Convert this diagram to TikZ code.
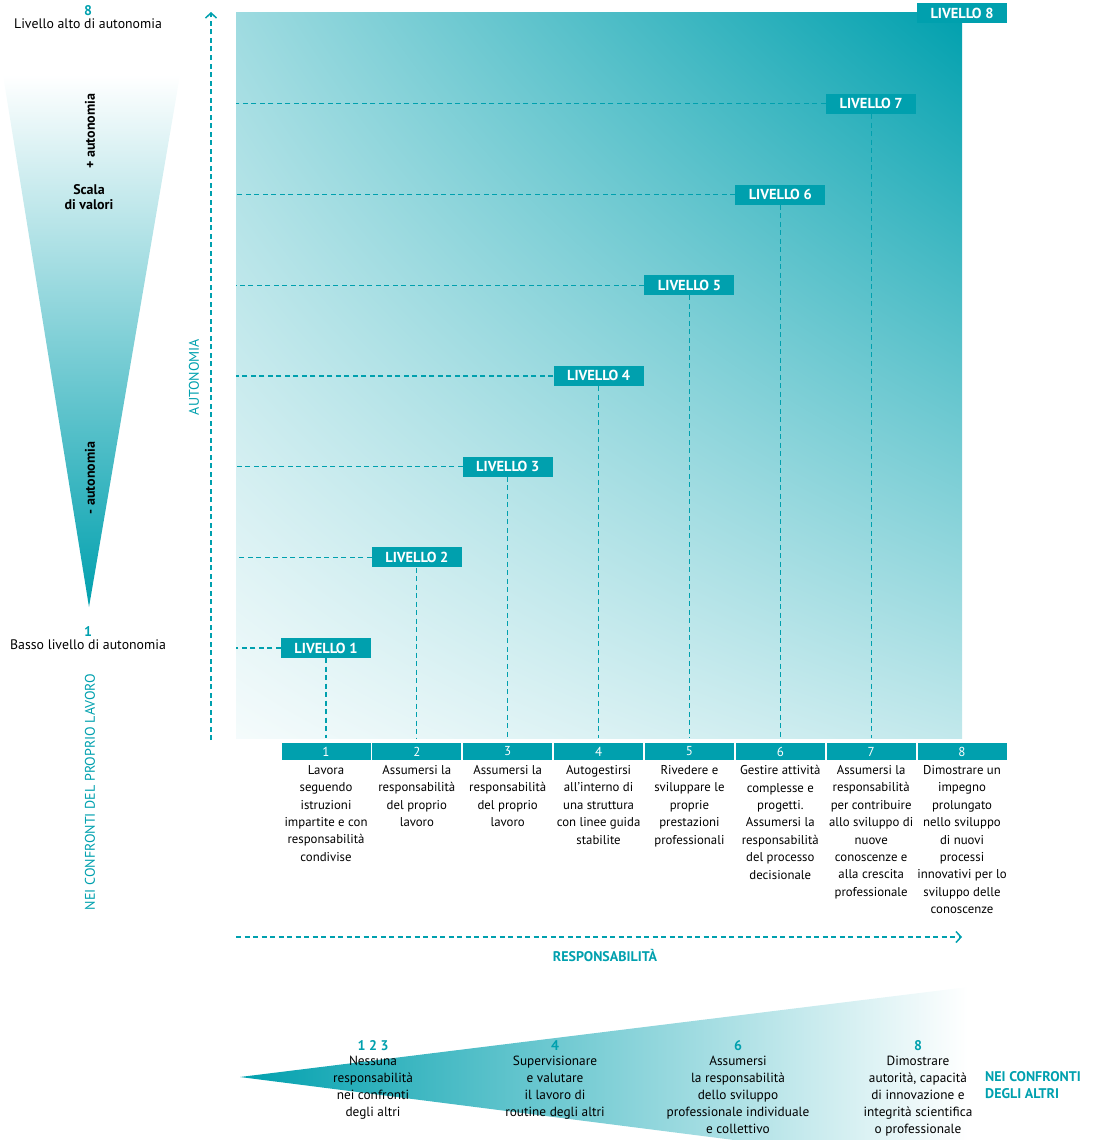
\documentclass[tikz,border=0pt]{standalone}
\usepackage{fontspec}
\setmainfont{PT Sans}
\usetikzlibrary{arrows.meta, positioning, calc, shadings}
\definecolor{ecteal}{RGB}{0,160,174}
\tikzset{
  lvlbox/.style   = {rectangle, fill=ecteal, text=white, minimum width=90pt,
                     minimum height=20pt, inner sep=0pt,
                     font=\fontsize{14.5}{16}\selectfont\bfseries},
  numbox/.style   = {rectangle, fill=ecteal, text=white, minimum width=89pt,
                     minimum height=17pt, inner sep=0pt,
                     font=\fontsize{13}{14}\selectfont},
  desc/.style     = {align=center, inner sep=0pt,
                     font=\fontsize{12.8}{17.4}\selectfont},
  guide/.style    = {ecteal, line width=1.2pt, dash pattern=on 5pt off 3.5pt},
  axisarrow/.style = {ecteal, line width=1.5pt, dash pattern=on 5pt off 3.5pt,
                     -{Straight Barb[length=5pt, width=11pt, line width=1.5pt]}},
  axislabel/.style = {text=ecteal, inner sep=0pt, font=\fontsize{14}{16}\selectfont},
  scalenum/.style = {text=ecteal, inner sep=0pt, font=\fontsize{14}{15}\selectfont\bfseries},
  scaletxt/.style = {align=center, inner sep=0pt, font=\fontsize{13.3}{17}\selectfont},
  scalebold/.style = {align=center, inner sep=0pt, font=\fontsize{14}{14.5}\selectfont\bfseries},
}
\begin{document}
\begin{tikzpicture}[x=1pt, y=-1pt]
  \useasboundingbox (0,0) rectangle (1093,1140);

  % gradient field
  \node[shade, lower left=ecteal!4!white, upper right=ecteal,
        upper left=ecteal!38!white, lower right=ecteal!24!white,
        minimum width=726pt, minimum height=725pt, inner sep=0pt]
        (sq) at (599,375.5) {};

  % left scale
  \shade[top color=white, bottom color=ecteal] (3,75) -- (180,75) -- (89,607) -- cycle;
  \node[scalenum] (top8) at (88,11) {8};
  \node[scaletxt, font=\fontsize{13.8}{15}\selectfont, below=2pt of top8] (toptxt) {Livello alto di autonomia};
  \node[scalebold, rotate=90] (plus) at (90,131) {+ autonomia};
  \node[scalebold] (scala) at (89,197) {Scala\\di valori};
  \node[scalebold, rotate=90] (minus) at (90,478) {- autonomia};
  \node[scalenum] (bot1) at (88,632) {1};
  \node[scaletxt, font=\fontsize{13.8}{15}\selectfont, below=2pt of bot1] (bottxt) {Basso livello di autonomia};
  \node[axislabel, rotate=90] (proprio) at (90,792) {NEI CONFRONTI DEL PROPRIO LAVORO};

  % axes
  \coordinate (ya) at (211,740);
  \coordinate (yb) at (211,12);
  \coordinate (xa) at (236,937);
  \coordinate (xb) at (962,937);
  \draw[axisarrow] (ya) -- (yb);
  \draw[axisarrow] (xa) -- (xb);
  \node[axislabel, rotate=90] (auto) at (194,377) {AUTONOMIA};
  \node[axislabel, font=\fontsize{14}{16}\selectfont\bfseries] (resp) at (605,955) {RESPONSABILITÀ};

  % levels and columns
  \foreach \i in {1,...,8} {
    \node[lvlbox] (lv\i) at ({326+(\i-1)*90.86}, {648-(\i-1)*90.7}) {LIVELLO \i};
    \node[numbox] (n\i) at ({326+(\i-1)*90.86}, 751.5) {\i};
  }
  \foreach \i in {1,...,7} {
    \draw[guide] (lv\i.west) -- (lv\i.west -| sq.west);
    \draw[guide] (lv\i.south) -- (lv\i.south |- sq.south);
  }

  \node[desc, below=5pt of n1] (d1) {Lavora\\seguendo\\istruzioni\\impartite e con\\responsabilità\\condivise};
  \node[desc, below=5pt of n2] (d2) {Assumersi la\\responsabilità\\del proprio\\lavoro};
  \node[desc, below=5pt of n3] (d3) {Assumersi la\\responsabilità\\del proprio\\lavoro};
  \node[desc, below=5pt of n4] (d4) {Autogestirsi\\all'interno di\\una struttura\\con linee guida\\stabilite};
  \node[desc, below=5pt of n5] (d5) {Rivedere e\\sviluppare le\\proprie\\prestazioni\\professionali};
  \node[desc, below=5pt of n6] (d6) {Gestire attività\\complesse e\\progetti.\\Assumersi la\\responsabilità\\del processo\\decisionale};
  \node[desc, below=5pt of n7] (d7) {Assumersi la\\responsabilità\\per contribuire\\allo sviluppo di\\nuove\\conoscenze e\\alla crescita\\professionale};
  \node[desc, below=5pt of n8] (d8) {Dimostrare un\\impegno\\prolungato\\nello sviluppo\\di nuovi\\processi\\innovativi per lo\\sviluppo delle\\conoscenze};

  % bottom scale
  \shade[left color=ecteal, right color=white] (240,1077) -- (968,987) -- (968,1140) -- (734,1140) -- cycle;
  \node[scalenum] (b123) at (373,1046) {1 2 3};
  \node[scaletxt, below=5pt of b123] (t123) {Nessuna\\responsabilità\\nei confronti\\degli altri};
  \node[scalenum] (b4) at (555,1046) {4};
  \node[scaletxt, below=5pt of b4] (t4) {Supervisionare\\e valutare\\il lavoro di\\routine degli altri};
  \node[scalenum] (b6) at (738,1046) {6};
  \node[scaletxt, below=5pt of b6] (t6) {Assumersi\\la responsabilità\\dello sviluppo\\professionale individuale\\e collettivo};
  \node[scalenum] (b8) at (918,1046) {8};
  \node[scaletxt, below=5pt of b8] (t8) {Dimostrare\\autorità, capacità\\di innovazione e\\integrità scientifica\\o professionale};
  \node[axislabel, align=left, anchor=west, font=\fontsize{14}{17}\selectfont\bfseries] (altri) at (985,1085) {NEI CONFRONTI\\DEGLI ALTRI};
\end{tikzpicture}
\end{document}
